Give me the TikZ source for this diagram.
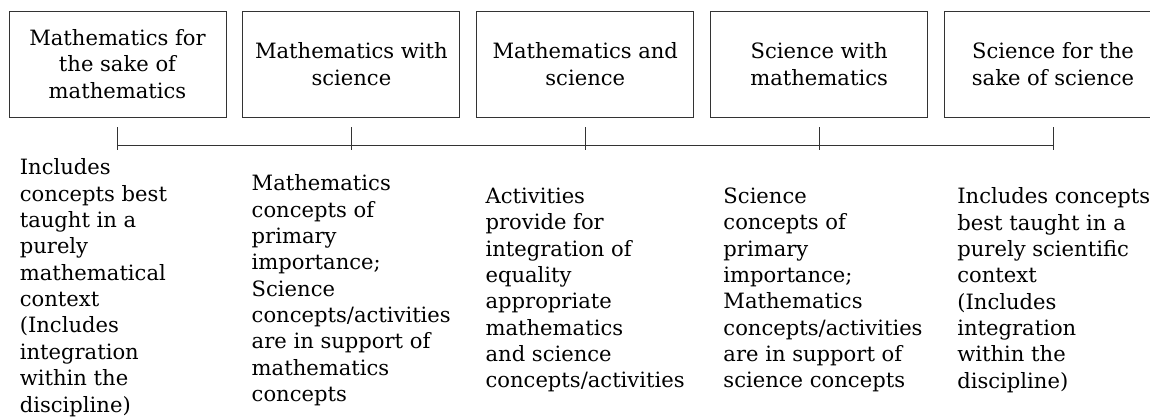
\documentclass[tikz,border=0pt]{standalone}
\usepackage{fontspec}
\setmainfont{DejaVu Serif}
\usepackage{tikz}
\usetikzlibrary{positioning}
\tikzstyle{stage}=[rectangle, draw=black!80, line width=0.5pt, align=center,
        minimum width=4.34cm, minimum height=2.12cm, inner sep=0pt,
        font=\fontsize{12}{15}\selectfont]
\tikzstyle{note}=[align=left, inner sep=0pt, font=\fontsize{12}{15}\selectfont]
\tikzstyle{tick}=[draw=black!80, line width=0.5pt]

\begin{document}
\begin{tikzpicture}[node distance=0.32cm]
        \clip (0,0) rectangle (23,-8.38);
        % the five stages, left to right
        \node (mathmath) [stage] at (2.35,-1.28)
        {Mathematics for\\the sake of\\mathematics};
        \node (mathsci) [stage, right=of mathmath]
        {Mathematics with\\science};
        \node (mathandsci) [stage, right=of mathsci]
        {Mathematics and\\science};
        \node (scimath) [stage, right=of mathandsci]
        {Science with\\mathematics};
        \node (scisci) [stage, right=of scimath]
        {Science for the\\sake of science};

        % continuum line under the boxes
        \coordinate (t1) at ([yshift=-0.56cm]mathmath.south);
        \coordinate (t2) at ([yshift=-0.56cm]mathsci.south);
        \coordinate (t3) at ([yshift=-0.56cm]mathandsci.south);
        \coordinate (t4) at ([yshift=-0.56cm]scimath.south);
        \coordinate (t5) at ([yshift=-0.56cm]scisci.south);
        \draw[tick] (t1) -- (t5);
        \foreach \tk in {t1,t2,t3,t4,t5}
          \draw[tick] ([yshift=0.36cm]\tk) -- ([yshift=-0.1cm]\tk);

        % descriptions
        \node (mathmathnote) [note, below right=0.26cm and -1.96cm of t1]
        {Includes\\concepts best\\taught in a\\purely\\mathematical\\context\\(Includes\\integration\\within the\\discipline)};
        \node (mathscinote) [note, below right=0.58cm and -2.0cm of t2]
        {Mathematics\\concepts of\\primary\\importance;\\Science\\concepts/activities\\are in support of\\mathematics\\concepts};
        \node (mathandscinote) [note, below right=0.84cm and -2.0cm of t3]
        {Activities\\provide for\\integration of\\equality\\appropriate\\mathematics\\and science\\concepts/activities};
        \node (scimathnote) [note, below right=0.84cm and -1.92cm of t4]
        {Science\\concepts of\\primary\\importance;\\Mathematics\\concepts/activities\\are in support of\\science concepts};
        \node (scscinote) [note, below right=0.84cm and -1.92cm of t5]
        {Includes concepts\\best taught in a\\purely scientific\\context\\(Includes\\integration\\within the\\discipline)};
\end{tikzpicture}
\end{document}
